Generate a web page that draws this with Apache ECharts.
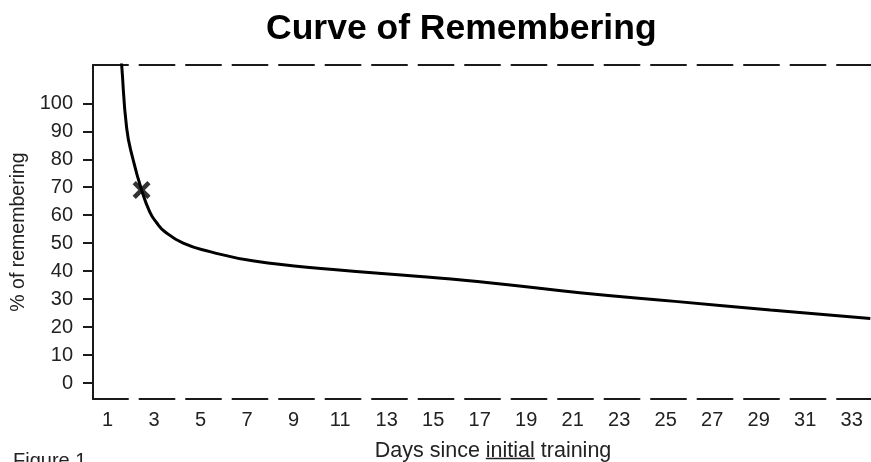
<!DOCTYPE html>
<html>
<head>
<meta charset="utf-8">
<script src="https://cdn.jsdelivr.net/npm/echarts@6/dist/echarts.min.js"></script>
<style>
  html, body { margin: 0; padding: 0; background: #fff; }
  #chart { width: 871px; height: 462px; }
</style>
</head>
<body>
<div id="chart"></div>
<script>
// days since training and % remembered
var days = [1.5, 1.6, 1.82, 2.09, 2.46, 2.82, 3.1, 3.45, 4.25, 5.4, 7.3, 10.7, 14.3, 17.5, 21.3, 25.4, 29.5, 33.8];
var remembered = [124, 114, 91, 80, 69, 61, 57.4, 54.2, 50, 47, 43.6, 40.6, 38.2, 35.8, 32.3, 29.2, 26.1, 23.1];
var markDay = [2.46];
var markValue = [69];
var xTicks = [1, 3, 5, 7, 9, 11, 13, 15, 17, 19, 21, 23, 25, 27, 29, 31, 33];
var yTicks = [0, 10, 20, 30, 40, 50, 60, 70, 80, 90, 100];

var font = '"Liberation Sans", Arial, sans-serif';
var ink = "#1a1a1a";

// measure pieces of the x axis name so "initial" can be underlined
var ctx = document.createElement("canvas").getContext("2d");
var nameFont = "21.5px " + font;
ctx.font = nameFont;
var w1 = ctx.measureText("Days since ").width;
var w2 = ctx.measureText("initial").width;
var w3 = ctx.measureText(" training").width;
var nameLeft = 493 - (w1 + w2 + w3) / 2;
var nameTop = 440;

var myChart = echarts.init(document.getElementById("chart"));
var option = {
  animation: false,
  title: {
    text: "Curve of Remembering",
    left: 261,
    top: 6,
    textStyle: { fontFamily: font, fontSize: 35.5, fontWeight: "bold", color: "#000" },
  },
  grid: { left: 93, top: 65, right: 0, bottom: 63 },
  xAxis: [
    {
      type: "value",
      min: 0.37,
      max: 33.83,
      position: "bottom",
      splitLine: { show: false },
      axisTick: { show: false },
      axisLine: { onZero: false, lineStyle: { color: ink, width: 2, type: [35, 11.5] } },
      axisLabel: {
        customValues: xTicks,
        margin: 11,
        color: "#222",
        fontFamily: font,
        fontSize: 20,
      },
    },
    {
      type: "value",
      min: 0.37,
      max: 33.83,
      position: "top",
      splitLine: { show: false },
      axisTick: { show: false },
      axisLabel: { show: false },
      axisLine: { onZero: false, lineStyle: { color: ink, width: 2, type: [35, 11.5] } },
    },
  ],
  yAxis: {
    type: "value",
    min: -5.7,
    max: 113.7,
    name: "% of remembering",
    nameLocation: "middle",
    nameGap: 57,
    nameTextStyle: { fontFamily: font, fontSize: 19.5, color: "#222" },
    splitLine: { show: false },
    axisLine: { onZero: false, lineStyle: { color: ink, width: 2 } },
    axisTick: { customValues: yTicks, length: 10, lineStyle: { color: ink, width: 2 } },
    axisLabel: {
      customValues: yTicks,
      margin: 20,
      color: "#222",
      fontFamily: font,
      fontSize: 20,
    },
  },
  series: [
    {
      type: "line",
      xAxisIndex: 0,
      data: days.map(function (d, i) { return [d, remembered[i]]; }),
      smooth: 0.5,
      showSymbol: false,
      clip: true,
      lineStyle: { color: "#000", width: 3 },
    },
    {
      type: "scatter",
      xAxisIndex: 0,
      data: markDay.map(function (d, i) { return [d, markValue[i]]; }),
      symbol: "path://M0,1.8 L1.8,0 L5,3.2 L8.2,0 L10,1.8 L6.8,5 L10,8.2 L8.2,10 L5,6.8 L1.8,10 L0,8.2 L3.2,5 Z",
      symbolSize: 18,
      itemStyle: { color: "#000" },
      z: 5,
    },
  ],
  graphic: [
    {
      type: "text",
      left: nameLeft,
      top: nameTop,
      style: { text: "Days since ", font: nameFont, fill: "#222" },
    },
    {
      type: "text",
      left: nameLeft + w1,
      top: nameTop,
      style: { text: "initial", font: nameFont, fill: "#222" },
    },
    {
      type: "line",
      shape: { x1: nameLeft + w1, y1: 458.5, x2: nameLeft + w1 + w2, y2: 458.5 },
      style: { stroke: "#222", lineWidth: 1.5 },
    },
    {
      type: "text",
      left: nameLeft + w1 + w2,
      top: nameTop,
      style: { text: " training", font: nameFont, fill: "#222" },
    },
    {
      type: "text",
      left: 13,
      top: 451,
      style: { text: "Figure 1", font: "20px " + font, fill: "#222" },
    },
  ],
};
myChart.setOption(option, true);
window.addEventListener("resize", function () {
  myChart.resize();
});
</script>
</body>
</html>
